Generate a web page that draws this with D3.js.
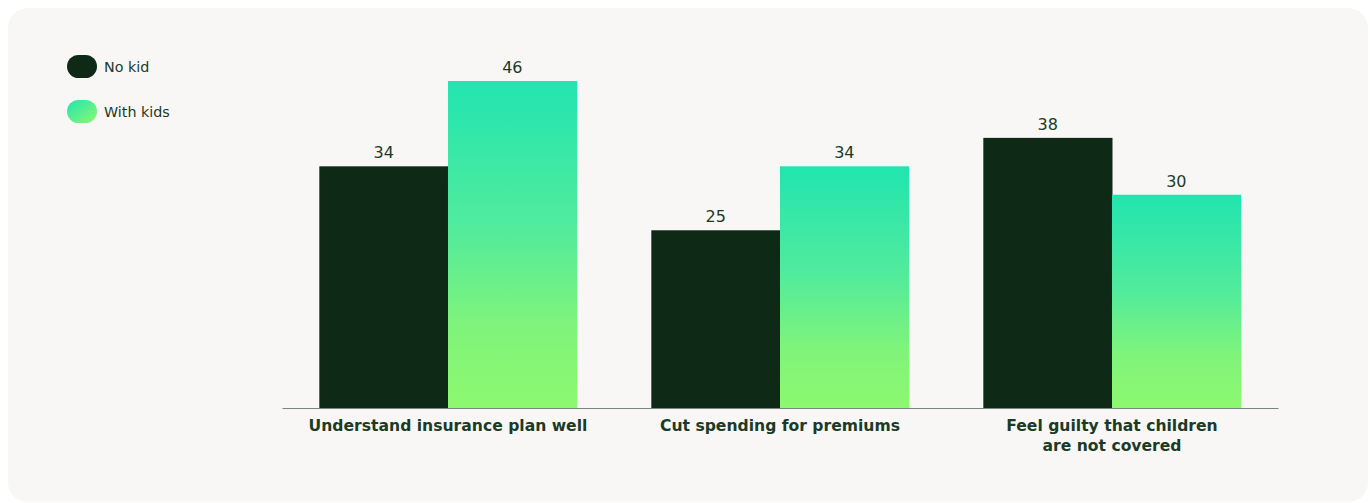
<!DOCTYPE html>
<html>
<head>
<meta charset="utf-8">
<script src="https://cdn.jsdelivr.net/npm/d3@7"></script>
<style>
  html, body { margin: 0; padding: 0; background: #ffffff; }
  svg { display: block; }
</style>
</head>
<body>
<svg id="chart" width="1370" height="503"></svg>
<script>
// Survey categories and series values
const categories = [
  ["Understand insurance plan well"],
  ["Cut spending for premiums"],
  ["Feel guilty that children", "are not covered"]
];
const seriesNames = ["No kid", "With kids"];
const noKid = [34, 25, 38];
const withKids = [46, 34, 30];

const W = 1370, H = 503;
const svg = d3.select("#chart");
const textColor = "#1b3b27";
const fontFam = "'DejaVu Sans', Verdana, sans-serif";

// Card background
svg.append("rect")
  .attr("x", 8).attr("y", 8)
  .attr("width", 1360).attr("height", 494)
  .attr("rx", 20).attr("ry", 20)
  .attr("fill", "#f8f7f5");

const defs = svg.append("defs");
const gradBar = defs.append("linearGradient")
  .attr("id", "gradBar").attr("x1", 0).attr("y1", 0).attr("x2", 0).attr("y2", 1);
gradBar.append("stop").attr("offset", "0%").attr("stop-color", "#21e5b0");
gradBar.append("stop").attr("offset", "45%").attr("stop-color", "#52eb9c");
gradBar.append("stop").attr("offset", "75%").attr("stop-color", "#7ff47b");
gradBar.append("stop").attr("offset", "100%").attr("stop-color", "#8df86f");

const gradLegend = defs.append("linearGradient")
  .attr("id", "gradLegend").attr("x1", 0).attr("y1", 0).attr("x2", 1).attr("y2", 1);
gradLegend.append("stop").attr("offset", "0%").attr("stop-color", "#21e5b0");
gradLegend.append("stop").attr("offset", "100%").attr("stop-color", "#8df86f");

const fills = ["#0e2a16", "url(#gradBar)"];
const legendFills = ["#0e2a16", "url(#gradLegend)"];

// Scales
const plot = { left: 282, right: 1278, top: 81, bottom: 408 };
const x0 = d3.scaleBand()
  .domain(d3.range(categories.length))
  .range([plot.left, plot.right])
  .paddingInner(0).paddingOuter(0);
const x1 = d3.scaleBand()
  .domain(d3.range(seriesNames.length))
  .range([0, x0.bandwidth()])
  .paddingInner(0).paddingOuter(0.29);
const y = d3.scaleLinear()
  .domain([0, 46])
  .range([plot.bottom, plot.top]);

const data = categories.map((c, i) => [noKid[i], withKids[i]]);

const groups = svg.append("g").selectAll("g")
  .data(data)
  .join("g")
  .attr("transform", (d, i) => `translate(${x0(i)},0)`);

groups.selectAll("rect")
  .data(d => d.map((v, s) => ({ v, s })))
  .join("rect")
  .attr("x", d => x1(d.s))
  .attr("width", x1.bandwidth() + 0.5)
  .attr("y", d => y(d.v))
  .attr("height", d => y(0) - y(d.v))
  .attr("fill", d => fills[d.s]);

groups.selectAll("text.val")
  .data(d => d.map((v, s) => ({ v, s })))
  .join("text")
  .attr("class", "val")
  .attr("x", d => x1(d.s) + x1.bandwidth() / 2)
  .attr("y", d => y(d.v) - 8)
  .attr("text-anchor", "middle")
  .attr("font-family", fontFam)
  .attr("font-size", 16)
  .attr("fill", textColor)
  .text(d => d.v);

// Baseline axis
const xAxis = d3.axisBottom(x0).tickSize(0).tickFormat("");
const axisG = svg.append("g")
  .attr("transform", `translate(0,${plot.bottom})`)
  .call(xAxis);
axisG.select(".domain").attr("stroke", "#7a837c").attr("stroke-width", 1.2);

// Category labels
const labels = svg.append("g").selectAll("text")
  .data(categories)
  .join("text")
  .attr("x", (d, i) => x0(i) + x0.bandwidth() / 2)
  .attr("y", 431)
  .attr("text-anchor", "middle")
  .attr("font-family", fontFam)
  .attr("font-weight", "bold")
  .attr("font-size", 15.6)
  .attr("fill", textColor);
labels.selectAll("tspan")
  .data(d => d)
  .join("tspan")
  .attr("x", function () { return d3.select(this.parentNode).attr("x"); })
  .attr("dy", (d, i) => i === 0 ? 0 : 20)
  .text(d => d);

// Legend
const legend = svg.append("g").selectAll("g")
  .data(seriesNames)
  .join("g")
  .attr("transform", (d, i) => `translate(67,${55 + i * 45})`);
legend.append("rect")
  .attr("width", 30).attr("height", 23)
  .attr("rx", 11.5).attr("ry", 11.5)
  .attr("fill", (d, i) => legendFills[i]);
legend.append("text")
  .attr("x", 37).attr("y", 12)
  .attr("dy", "0.35em")
  .attr("font-family", fontFam)
  .attr("font-size", 14.3)
  .attr("fill", textColor)
  .text(d => d);
</script>
</body>
</html>
